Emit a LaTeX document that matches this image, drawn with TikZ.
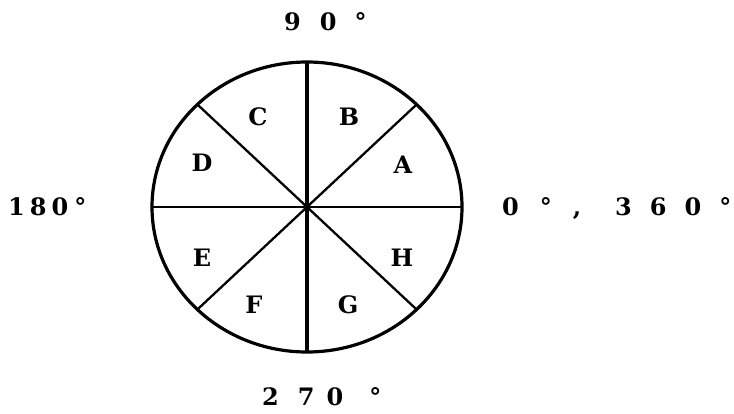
\documentclass[tikz,border=0pt]{standalone}
\usepackage{fontspec}
\usepackage{xcolor}
\usepackage{tikz}
\setmainfont{DejaVu Serif}

\begin{document}
\begin{tikzpicture}[x=1pt,y=-1pt,
  sector/.style={font=\fontsize{24}{24}\selectfont\bfseries, text height=17.5pt, text depth=0pt, inner sep=0pt},
  angle/.style={font=\fontsize{24}{24}\selectfont\bfseries, anchor=west, text height=17.5pt, text depth=0pt, inner sep=0pt}]
\useasboundingbox (0,0) rectangle (734,414);

\coordinate (o) at (307,207);
\coordinate (top) at (307,62);
\coordinate (bottom) at (307,352);
\coordinate (left) at (152,207);
\coordinate (right) at (462,207);
\coordinate (ne) at (416.6,104.5);
\coordinate (nw) at (197.4,104.5);
\coordinate (sw) at (197.4,309.5);
\coordinate (se) at (416.6,309.5);

% wheel
\draw[line width=3.2pt] (o) ellipse [x radius=155, y radius=145];
\draw[line width=3.2pt] (top) -- (bottom);
\draw[line width=2.8pt] (left) -- (right);
\draw[line width=2.3pt] (ne) -- (sw);
\draw[line width=2.3pt] (nw) -- (se);

% sectors
\node (a) [sector] at (403,165) {A};
\node (b) [sector] at (349,117) {B};
\node (c) [sector] at (258,117) {C};
\node (d) [sector] at (202,163) {D};
\node (e) [sector] at (202,258) {E};
\node (f) [sector] at (254,305) {F};
\node (g) [sector] at (348,305) {G};
\node (h) [sector] at (402,258) {H};

% angles
\node (deg90) [angle] at (284,22) {9\hspace{19pt}0\hspace{18pt}°};
\node (deg180) [angle] at (8,207) {1\hspace{5pt}8\hspace{5pt}0\hspace{6pt}°};
\node (deg270) [angle] at (262,397) {2\hspace{19pt}7\hspace{12pt}0\hspace{26pt}°};
\node (deg0) [angle] at (502,207) {0\hspace{21pt}°\hspace{21pt},\hspace{34pt}3\hspace{18pt}6\hspace{18pt}0\hspace{18pt}°};
\end{tikzpicture}
\end{document}
